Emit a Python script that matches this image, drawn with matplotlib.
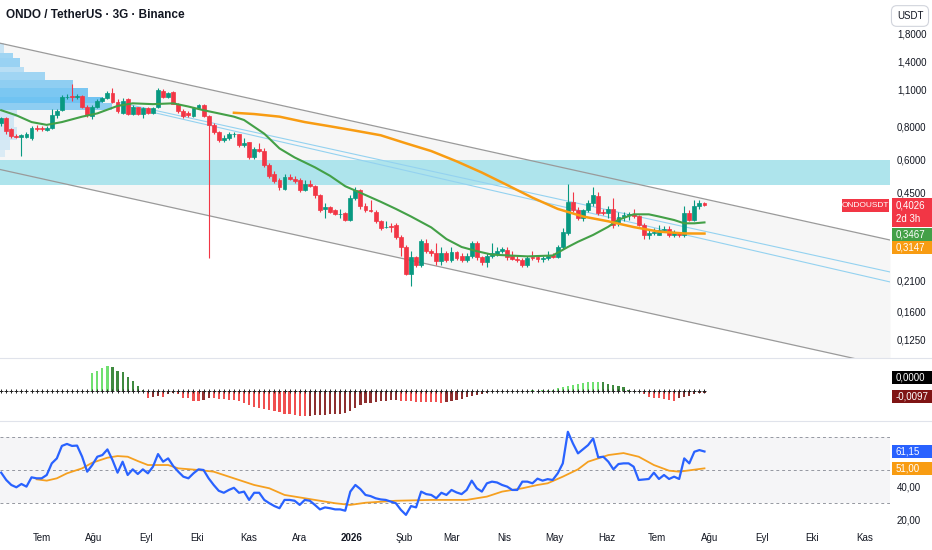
import numpy as np
import pandas as pd
import matplotlib
matplotlib.use("Agg")
import matplotlib.pyplot as plt
import matplotlib.dates as mdates
from matplotlib.patches import Rectangle

plt.rcParams['font.family'] = ['Liberation Sans', 'DejaVu Sans']

W, H = 932, 550

# ---- data (3 day candles, ONDO/USDT) ----
first_day = '2025-06-07'
bar_days = 3

opens = [0.82, 0.86, 0.78, 0.735, 0.73, 0.73, 0.72, 0.79, 0.785, 0.775,
         0.79, 0.88, 0.92, 1.03, 1.04, 1.03, 1.04, 0.95, 0.875, 0.95,
         1.00, 1.02, 1.07, 0.99, 0.90, 1.01, 0.89, 0.945, 0.89, 0.94,
         0.90, 0.95, 1.09, 1.035, 1.08, 0.975, 0.915, 0.895, 0.875, 0.937,
         0.963, 0.875, 0.81, 0.763, 0.71, 0.72, 0.745, 0.745, 0.68, 0.695,
         0.61, 0.655, 0.645, 0.57, 0.53, 0.50, 0.465, 0.515, 0.505, 0.50,
         0.46, 0.483, 0.475, 0.44, 0.39, 0.396, 0.385, 0.372, 0.376, 0.355,
         0.43, 0.46, 0.40, 0.387, 0.38, 0.35, 0.332, 0.336, 0.34, 0.305,
         0.28, 0.222, 0.256, 0.24, 0.29, 0.27, 0.265, 0.247, 0.265, 0.25,
         0.267, 0.258, 0.25, 0.26, 0.29, 0.256, 0.245, 0.26, 0.264, 0.27,
         0.273, 0.258, 0.253, 0.25, 0.24, 0.256, 0.256, 0.252, 0.255, 0.262,
         0.256, 0.28, 0.315, 0.415, 0.385, 0.36, 0.385, 0.41, 0.435, 0.38,
         0.375, 0.388, 0.345, 0.362, 0.37, 0.372, 0.368, 0.34, 0.31, 0.315,
         0.312, 0.325, 0.328, 0.31, 0.318, 0.31, 0.375, 0.355, 0.40, 0.41]
highs = [0.87, 0.87, 0.79, 0.75, 0.75, 0.76, 0.80, 0.81, 0.80, 0.80,
         0.93, 0.93, 1.05, 1.06, 1.16, 1.06, 1.05, 0.96, 0.96, 1.01,
         1.03, 1.09, 1.12, 1.01, 1.02, 1.02, 0.96, 0.95, 0.95, 0.95,
         0.95, 1.12, 1.11, 1.08, 1.09, 0.98, 0.93, 0.91, 0.95, 0.97,
         0.97, 0.88, 0.82, 0.77, 0.74, 0.76, 0.76, 0.75, 0.72, 0.70,
         0.67, 0.69, 0.66, 0.58, 0.54, 0.51, 0.53, 0.53, 0.52, 0.51,
         0.50, 0.50, 0.48, 0.445, 0.41, 0.40, 0.39, 0.39, 0.38, 0.44,
         0.47, 0.465, 0.41, 0.42, 0.385, 0.355, 0.35, 0.345, 0.345, 0.31,
         0.285, 0.27, 0.26, 0.30, 0.30, 0.275, 0.29, 0.28, 0.27, 0.28,
         0.27, 0.265, 0.265, 0.295, 0.295, 0.26, 0.265, 0.29, 0.28, 0.28,
         0.28, 0.27, 0.26, 0.255, 0.26, 0.27, 0.26, 0.26, 0.27, 0.265,
         0.285, 0.33, 0.485, 0.45, 0.395, 0.39, 0.42, 0.47, 0.45, 0.39,
         0.40, 0.43, 0.38, 0.38, 0.38, 0.39, 0.37, 0.345, 0.325, 0.33,
         0.34, 0.335, 0.335, 0.325, 0.32, 0.40, 0.385, 0.42, 0.42, 0.415]
lows = [0.80, 0.75, 0.72, 0.72, 0.62, 0.72, 0.71, 0.77, 0.77, 0.77,
        0.78, 0.86, 0.91, 1.01, 1.00, 1.01, 0.94, 0.87, 0.85, 0.94,
        0.99, 1.01, 0.98, 0.90, 0.89, 0.88, 0.88, 0.88, 0.86, 0.89,
        0.89, 0.94, 1.02, 1.02, 0.97, 0.90, 0.86, 0.87, 0.87, 0.93,
        0.87, 0.255, 0.75, 0.70, 0.70, 0.71, 0.73, 0.67, 0.67, 0.60,
        0.60, 0.64, 0.56, 0.51, 0.49, 0.46, 0.46, 0.50, 0.49, 0.45,
        0.455, 0.47, 0.43, 0.38, 0.36, 0.375, 0.37, 0.36, 0.35, 0.35,
        0.42, 0.39, 0.38, 0.38, 0.345, 0.325, 0.33, 0.32, 0.30, 0.26,
        0.22, 0.20, 0.235, 0.235, 0.265, 0.26, 0.24, 0.24, 0.245, 0.245,
        0.25, 0.245, 0.245, 0.255, 0.25, 0.24, 0.235, 0.255, 0.26, 0.265,
        0.25, 0.25, 0.245, 0.235, 0.235, 0.25, 0.245, 0.245, 0.25, 0.255,
        0.255, 0.275, 0.31, 0.38, 0.355, 0.35, 0.38, 0.40, 0.37, 0.37,
        0.36, 0.33, 0.335, 0.35, 0.355, 0.36, 0.335, 0.30, 0.30, 0.31,
        0.31, 0.32, 0.305, 0.305, 0.305, 0.305, 0.35, 0.35, 0.39, 0.40]
closes = [0.86, 0.77, 0.735, 0.73, 0.74, 0.75, 0.79, 0.78, 0.78, 0.79,
          0.88, 0.915, 1.03, 1.035, 1.03, 1.04, 0.95, 0.88, 0.95, 1.00,
          1.02, 1.07, 0.99, 0.91, 1.00, 0.89, 0.945, 0.89, 0.935, 0.90,
          0.94, 1.10, 1.035, 1.07, 0.975, 0.915, 0.875, 0.88, 0.937, 0.963,
          0.875, 0.81, 0.763, 0.71, 0.72, 0.745, 0.75, 0.68, 0.69, 0.61,
          0.655, 0.645, 0.57, 0.52, 0.495, 0.47, 0.515, 0.505, 0.495, 0.46,
          0.483, 0.475, 0.44, 0.386, 0.396, 0.38, 0.372, 0.374, 0.355, 0.43,
          0.46, 0.40, 0.385, 0.382, 0.35, 0.33, 0.334, 0.332, 0.305, 0.28,
          0.222, 0.256, 0.24, 0.294, 0.27, 0.265, 0.247, 0.265, 0.25, 0.267,
          0.255, 0.25, 0.258, 0.29, 0.256, 0.245, 0.26, 0.265, 0.27, 0.274,
          0.256, 0.253, 0.25, 0.24, 0.255, 0.254, 0.252, 0.255, 0.26, 0.256,
          0.28, 0.32, 0.415, 0.385, 0.36, 0.385, 0.41, 0.44, 0.375, 0.375,
          0.388, 0.34, 0.365, 0.37, 0.372, 0.368, 0.34, 0.31, 0.315, 0.318,
          0.325, 0.328, 0.31, 0.318, 0.31, 0.375, 0.355, 0.40, 0.41, 0.4026]

# moving averages on the price pane (candle index, value)
green_idx = [0, 3, 6, 9, 12, 16, 19, 23, 26, 30, 34, 37, 40, 43, 46, 48, 52, 55, 58,
             62, 65, 68, 72, 75, 78, 81, 85, 88, 91, 94, 97, 104, 109, 112, 114, 117,
             120, 122, 125, 128, 130, 133, 135, 137, 139]
green_val = [0.92, 0.88, 0.83, 0.81, 0.83, 0.87, 0.895, 0.955, 0.977, 0.97, 0.977, 0.95,
             0.92, 0.895, 0.87, 0.845, 0.75, 0.66, 0.61, 0.56, 0.52, 0.475, 0.44, 0.415,
             0.39, 0.365, 0.332, 0.30, 0.28, 0.27, 0.262, 0.258, 0.26, 0.28, 0.293, 0.311,
             0.334, 0.355, 0.372, 0.372, 0.365, 0.354, 0.344, 0.344, 0.3467]
orange_idx = [46, 50, 55, 60, 65, 70, 75, 80, 85, 90, 95, 100, 105, 110, 115, 120,
              125, 130, 135, 139]
orange_val = [0.90, 0.89, 0.87, 0.83, 0.80, 0.77, 0.74, 0.69, 0.645, 0.59, 0.535, 0.48,
              0.43, 0.39, 0.365, 0.35, 0.333, 0.32, 0.315, 0.3147]

# drawings: parallel channel, two trend lines, supply zone, volume profile
channel_top = [('2025-06-06', 1.65), ('2026-11-16', 0.2975)]
channel_bot = [('2025-06-06', 0.55), ('2026-11-16', 0.0991)]
trend_a = [('2025-08-16', 0.984), ('2026-11-16', 0.2253)]
trend_b = [('2025-08-16', 0.966), ('2026-11-16', 0.2066)]
zone_low, zone_high = 0.48, 0.597
vp_top = [1.65, 1.513, 1.448, 1.339, 1.282, 1.196, 1.116, 1.032, 0.98, 0.921, 0.867, 0.795, 0.709, 0.651]
vp_bot = [1.513, 1.448, 1.339, 1.282, 1.196, 1.116, 1.032, 0.98, 0.921, 0.867, 0.795, 0.709, 0.651, 0.612]
vp_days = [2.4, 7.7, 11.9, 14.2, 26.7, 43.3, 52.2, 61, 66.4, 10, 8.3, 10, 5.9, 3]
vp_alpha = [0.22, 0.42, 0.45, 0.3, 0.42, 0.5, 0.6, 0.65, 0.5, 0.2, 0.18, 0.18, 0.16, 0.13]

# squeeze momentum histogram
hist = [0] * 18 + [
    0.113, 0.128, 0.145, 0.160, 0.152, 0.130, 0.124, 0.092, 0.064, 0.034, 0.008,
    -0.045, -0.038, -0.030, -0.036, -0.021, -0.015, -0.021, -0.043, -0.047, -0.062,
    -0.064, -0.056, -0.047, -0.048, -0.051, -0.052, -0.056, -0.060, -0.064, -0.079,
    -0.090, -0.100, -0.111, -0.115, -0.122, -0.128, -0.136, -0.145, -0.149, -0.154,
    -0.158, -0.160,
    -0.158, -0.155, -0.154, -0.152, -0.149, -0.147, -0.145, -0.141, -0.128, -0.110,
    -0.092, -0.079, -0.075, -0.068, -0.067, -0.064, -0.058, -0.057, -0.062, -0.064,
    -0.066, -0.068, -0.069, -0.070, -0.072, -0.073, -0.074, -0.068, -0.064, -0.058,
    -0.051, -0.036, -0.030, -0.026, -0.021, -0.015, -0.009,
    -0.004, -0.002, 0.001, 0.002, 0.003, 0.002, 0.003, 0.004, 0.003, 0.004, 0.005, 0.008,
    0.021, 0.028, 0.034, 0.038, 0.045, 0.051, 0.055, 0.056, 0.060, 0.056, 0.045, 0.038,
    0.034, 0.023, 0.008, 0.002,
    -0.004, -0.021, -0.036, -0.043, -0.047, -0.051, -0.055, -0.062, -0.047, -0.040,
    -0.030, -0.019, -0.014, -0.0097]

# RSI and its moving average
rsi = [48.4, 44, 41, 39.6, 41.6, 40, 45.6, 45, 45, 47,
       54, 57, 64.5, 65.7, 64.5, 64.7, 58, 49, 53, 58,
       59, 62.4, 56, 48.4, 55, 47, 50.4, 47.6, 50.4, 48,
       52, 59.6, 55, 57, 52.4, 49, 46, 45, 48, 50.4,
       50, 45, 41, 37.5, 36.3, 38, 39.3, 36.3, 37, 32,
       36.3, 36.3, 32, 30, 28.3, 27, 32, 32, 31.5, 29,
       32, 31.5, 29, 26.3, 27.5, 27, 26.3, 26.3, 25.5, 37,
       41, 38.5, 35, 34.3, 33, 32.3, 32, 31, 30, 26,
       23, 28.3, 27.5, 37, 35.5, 35, 33, 36.3, 35, 38,
       36.5, 35.5, 38, 43.6, 39, 37, 42, 43, 42.5, 41,
       40, 38, 38, 43, 43, 42, 44.8, 43.6, 44.5, 44,
       48, 54, 73, 66, 60, 62.5, 65, 69, 57.6, 58,
       55, 50.4, 53.6, 54, 54, 52, 44, 44.3, 44.6, 48.4,
       44.6, 47, 44.6, 46, 44.6, 57, 54, 61, 62, 61.15]
rsi_ma_idx = [7, 9, 11, 13, 16, 18, 21, 23, 25, 27, 29, 33, 35, 39, 42, 46, 50, 53, 56,
              59, 62, 66, 69, 72, 78, 85, 92, 96, 99, 103, 106, 108, 111, 114, 116, 120,
              123, 126, 129, 132, 134, 139]
rsi_ma_val = [44.4, 43.6, 45, 48, 51, 54.4, 57.4, 58.4, 58, 55.4, 53, 53, 51, 50, 49, 45,
              41, 39, 35, 33.5, 32, 30, 29, 30.3, 31.5, 32, 32, 34, 37, 39, 41, 42, 46,
              50.4, 55, 59, 60.2, 58, 53, 49.6, 49, 51.0]

price_ticks = [1.8, 1.4, 1.1, 0.8, 0.6, 0.45, 0.21, 0.16, 0.125]
rsi_ticks = [20, 40]
month_ticks = ['2025-07-01', '2025-08-01', '2025-09-01', '2025-10-01', '2025-11-01',
               '2025-12-01', '2026-01-01', '2026-02-01', '2026-03-01', '2026-04-01',
               '2026-05-01', '2026-06-01', '2026-07-01', '2026-08-01', '2026-09-01',
               '2026-10-01', '2026-11-01']
month_labels = ['Tem', 'Ağu', 'Eyl', 'Eki', 'Kas', 'Ara', '2026', 'Şub', 'Mar', 'Nis',
                'May', 'Haz', 'Tem', 'Ağu', 'Eyl', 'Eki', 'Kas']

# ---- drawing ----
UP, DOWN = '#089981', '#f23645'
TXT = '#131722'

o = np.array(opens); h = np.array(highs); l = np.array(lows); c = np.array(closes)
dates = pd.Timestamp(first_day) + pd.to_timedelta(np.arange(len(c)) * bar_days, unit='D')
xs = mdates.date2num(dates)
x_left, x_right = xs[0] - 0.7, xs[-1] + 110


def fmt(v, nd=4):
    return f"{v:.{nd}f}".replace('.', ',')


def dnum(s):
    return mdates.date2num(pd.Timestamp(s))


fig = plt.figure(figsize=(W / 100, H / 100), dpi=100)
fig.patch.set_facecolor('white')
ax_p = fig.add_axes([0, 192 / H, 890 / W, 358 / H])
ax_h = fig.add_axes([0, 129 / H, 890 / W, 63 / H], sharex=ax_p)
ax_r = fig.add_axes([0, 23 / H, 890 / W, 106 / H], sharex=ax_p)

for ax in (ax_p, ax_h, ax_r):
    for s in ax.spines.values():
        s.set_visible(False)
    ax.tick_params(length=0, labelsize=7, labelcolor=TXT)
    ax.yaxis.tick_right()

# price pane
ax_p.set_yscale('log')
ax_p.set_ylim(0.1066, 2.40)
ax_p.set_xlim(x_left, x_right)
ax_p.minorticks_off()
ax_p.set_yticks(price_ticks)
ax_p.set_yticklabels([fmt(v) for v in price_ticks])
ax_p.tick_params(axis='y', pad=5)
ax_p.tick_params(axis='x', labelbottom=False)

tx = [dnum(channel_top[0][0]), dnum(channel_top[1][0])]
ax_p.fill_between(tx, [channel_top[0][1], channel_top[1][1]],
                  [channel_bot[0][1], channel_bot[1][1]], color='#f6f6f6', lw=0, zorder=0)
for line in (channel_top, channel_bot):
    ax_p.plot([dnum(d) for d, _ in line], [p for _, p in line], color='#9a9a9a', lw=0.9, zorder=1)
for line in (trend_a, trend_b):
    ax_p.plot([dnum(d) for d, _ in line], [p for _, p in line], color='#94d2f0', lw=0.8, zorder=1)

ax_p.axhspan(zone_low, zone_high, color='#aee4ec', lw=0, zorder=0.5)
ax_p.barh(vp_bot, vp_days, height=np.array(vp_top) - np.array(vp_bot), left=x_left,
          align='edge', color=[(0.16, 0.66, 0.94, a) for a in vp_alpha], lw=0, zorder=0.6)

cols = np.where(c >= o, UP, DOWN)
ax_p.vlines(xs, l, h, colors=cols, lw=0.8, zorder=2)
ax_p.bar(xs, np.abs(c - o), bottom=np.minimum(o, c), width=2.3, color=cols,
         edgecolor=cols, lw=0.5, zorder=3)

ax_p.plot(xs[green_idx], green_val, color='#43a047', lw=1.5, zorder=4)
ax_p.plot(xs[orange_idx], orange_val, color='#f89c12', lw=1.8, zorder=4)

# momentum pane
hv = np.array(hist)
prev = np.r_[0, hv[:-1]]
hcols = np.where(hv >= 0, np.where(hv > prev, '#70e070', '#3f8a3f'),
                 np.where(hv < prev, '#f05050', '#8e2f2f'))
ax_h.bar(xs, hv, width=1.3, color=hcols, zorder=2)
ax_h.scatter(xs, np.zeros_like(hv), marker='+', s=7, c='#222222', lw=0.7, zorder=3)
ax_h.set_ylim(-0.192, 0.211)
ax_h.set_yticks([])
ax_h.tick_params(axis='x', labelbottom=False)

# RSI pane
ax_r.set_ylim(15.7, 79.5)
ax_r.axhspan(30, 70, color='#f5f5f7', lw=0, zorder=0)
for lvl in (70, 50, 30):
    ax_r.axhline(lvl, color='#9598a1', lw=0.7, ls=(0, (3, 3)), zorder=1)
ax_r.plot(xs, rsi, color='#2962ff', lw=1.6, zorder=3)
ax_r.plot(xs[rsi_ma_idx], rsi_ma_val, color='#f5a020', lw=1.3, zorder=2)
ax_r.set_yticks(rsi_ticks)
ax_r.set_yticklabels([fmt(v, 2) for v in rsi_ticks])
ax_r.tick_params(axis='y', pad=5)
ax_r.set_xticks([dnum(m) for m in month_ticks])
ax_r.set_xticklabels(month_labels)
ax_r.tick_params(axis='x', pad=4)
for t in ax_r.get_xticklabels():
    if t.get_text() == '2026':
        t.set_fontweight('bold')

# pane separators
for yy in (358, 421):
    fig.add_artist(plt.Line2D([0, 1], [1 - yy / H, 1 - yy / H], color='#e0e3eb', lw=0.8))


def tag(ax, val, text, color, dy=0, hgt=13, x0=892, x1=W, tc='white', fs=7, center=False):
    yc = ax.transData.transform((x_left, val))[1] + dy
    fig.add_artist(Rectangle((x0 / W, (yc - hgt / 2) / H), (x1 - x0) / W, hgt / H,
                             transform=fig.transFigure, fc=color, ec='none'))
    if center:
        fig.text((x0 + x1) / 2 / W, yc / H, text, color=tc, fontsize=fs, va='center', ha='center')
    else:
        fig.text((x0 + 4) / W, yc / H, text, color=tc, fontsize=fs, va='center', ha='left')


last = closes[-1]
yl = ax_p.transData.transform((x_left, last))[1]
fig.add_artist(Rectangle((892 / W, (yl - 22) / H), 40 / W, 29 / H,
                         transform=fig.transFigure, fc=DOWN, ec='none'))
fig.text(896 / W, yl / H, fmt(last), color='white', fontsize=7, va='center')
fig.text(896 / W, (yl - 14) / H, '2d 3h', color='white', fontsize=7, va='center')
tag(ax_p, last, 'ONDOUSDT', DOWN, x0=842, x1=889, fs=6, center=True)
tag(ax_p, green_val[-1], fmt(green_val[-1]), '#43a047', dy=-12)
tag(ax_p, orange_val[-1], fmt(orange_val[-1]), '#f89c12', dy=-14)
tag(ax_h, 0, fmt(0), '#000000', dy=13)
tag(ax_h, hist[-1], fmt(hist[-1]), '#7f1414', dy=-3.5)
tag(ax_r, rsi[-1], fmt(rsi[-1], 2), '#2962ff')
tag(ax_r, rsi_ma_val[-1], fmt(rsi_ma_val[-1], 2), '#f89c12')

fig.text(6 / W, 1 - 15 / H, 'ONDO / TetherUS · 3G · Binance', fontsize=8.5,
         fontweight='bold', color=TXT, va='center')
fig.text(910 / W, 1 - 16 / H, 'USDT', fontsize=7, color=TXT, ha='center', va='center',
         bbox=dict(boxstyle='round,pad=0.55', fc='white', ec='#d1d4dc', lw=0.8))

fig.savefig('out.png', dpi=100)
